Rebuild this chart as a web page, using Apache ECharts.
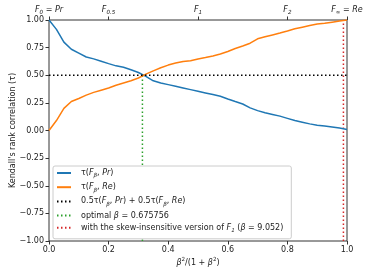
<!DOCTYPE html>
<html><head><meta charset="utf-8">
<script src="https://cdn.jsdelivr.net/npm/echarts@6/dist/echarts.min.js"></script>
<style>html,body{margin:0;padding:0;background:#fff}#c{width:369px;height:276px}</style>
</head><body><div id="c"></div>
<script>
const xValues = [0,0.025,0.05,0.075,0.1,0.125,0.15,0.175,0.2,0.225,0.25,0.275,0.3,0.325,0.35,0.375,0.4,0.425,0.45,0.475,0.5,0.525,0.55,0.575,0.6,0.625,0.65,0.675,0.7,0.725,0.75,0.775,0.8,0.825,0.85,0.875,0.9,0.925,0.95,0.975,1.0];
const tauPr = [1.0,0.915,0.80,0.735,0.70,0.665,0.648,0.627,0.605,0.585,0.572,0.55,0.525,0.49,0.45,0.43,0.415,0.40,0.385,0.37,0.355,0.34,0.325,0.31,0.285,0.262,0.24,0.205,0.18,0.16,0.145,0.13,0.11,0.09,0.075,0.06,0.048,0.04,0.032,0.022,0.01];
const tauRe = [0.0,0.09,0.20,0.262,0.29,0.32,0.345,0.365,0.385,0.41,0.43,0.45,0.475,0.51,0.54,0.568,0.592,0.61,0.625,0.632,0.648,0.66,0.675,0.692,0.715,0.742,0.765,0.79,0.83,0.848,0.865,0.882,0.9,0.92,0.935,0.95,0.963,0.97,0.98,0.99,1.0];
const avgX = [0, 1], avgY = [0.5, 0.5];
const optX = [0.3135, 0.3135], optY = [-1, 0.5];
const skewX = [0.988, 0.988], skewY = [-1, 1];
const topTicks = [0, 0.2, 0.5, 0.8, 1.0];
const topLabels = ['{i|F}{s|0}{t| = }{i|Pr}', '{i|F}{s|0.5}', '{i|F}{s|1}', '{i|F}{s|2}', '{i|F}{s|∞}{t| = }{i|Re}'];
const seriesNames = ['pr', 're', 'avg', 'opt', 'skew'];
const legendLabels = {
  pr: '{t|τ(}{i|F}{s|β}{t|, }{i|Pr}{t|)}',
  re: '{t|τ(}{i|F}{s|β}{t|, }{i|Re}{t|)}',
  avg: '{t|0.5τ(}{i|F}{s|β}{t|, }{i|Pr}{t|) + 0.5τ(}{i|F}{s|β}{t|, }{i|Re}{t|)}',
  opt: '{t|optimal }{i|β}{t| = 0.675756}',
  skew: '{t|with the skew-insensitive version of }{i|F}{s|1}{t| (}{i|β}{t| = 9.052)}'
};
const F = 'DejaVu Sans';
const rich = {
  t: {fontFamily: F, fontSize: 8, color: '#222', lineHeight: 12},
  i: {fontFamily: F, fontSize: 8, fontStyle: 'italic', color: '#222', lineHeight: 12},
  s: {fontFamily: F, fontSize: 5.6, fontStyle: 'italic', color: '#222', verticalAlign: 'bottom', lineHeight: 10},
  p: {fontFamily: F, fontSize: 5.6, color: '#222', verticalAlign: 'top', lineHeight: 10}
};
const zip = (a, b) => a.map((v, i) => [v, b[i]]);
const chart = echarts.init(document.getElementById('c'), null, {renderer: 'canvas'});
chart.setOption({
  animation: false,
  backgroundColor: '#fff',
  grid: {left: 49, right: 22, top: 20, bottom: 35, show: true, borderColor: '#333', borderWidth: 1, backgroundColor: 'transparent', containLabel: false, outerBoundsMode: 'none'},
  xAxis: [{
    type: 'value', min: 0, max: 1, interval: 0.2, position: 'bottom',
    axisLine: {show: false, onZero: false}, splitLine: {show: false},
    axisTick: {show: true, length: 3.5, lineStyle: {color: '#333'}},
    axisLabel: {fontFamily: F, fontSize: 8, color: '#222', margin: 5, formatter: v => v.toFixed(1)},
    name: '{i|β}{p|2}{t|/(1 + }{i|β}{p|2}{t|)}', nameLocation: 'middle', nameGap: 16, nameMoveOverlap: false,
    nameTextStyle: {rich: rich}
  }, {
    type: 'value', min: 0, max: 1, position: 'top',
    axisLine: {show: false, onZero: false}, splitLine: {show: false},
    axisTick: {show: true, length: 3.5, customValues: topTicks, lineStyle: {color: '#333'}},
    axisLabel: {show: true, margin: 4, customValues: topTicks,
      formatter: v => topLabels[topTicks.indexOf(v)] || '', rich: rich}
  }],
  yAxis: {
    type: 'value', min: -1, max: 1, interval: 0.25,
    axisLine: {show: false, onZero: false}, splitLine: {show: false},
    axisTick: {show: true, length: 3.5, lineStyle: {color: '#333'}},
    axisLabel: {fontFamily: F, fontSize: 8, color: '#222', margin: 5, formatter: v => (v < 0 ? '−' + (-v).toFixed(2) : v.toFixed(2))},
    name: "Kendall's rank correlation (τ)", nameLocation: 'middle', nameGap: 32, nameMoveOverlap: false,
    nameTextStyle: {fontFamily: F, fontSize: 8, color: '#222'}
  },
  legend: {
    data: seriesNames, orient: 'vertical', left: 53, top: 166,
    itemWidth: 14, itemHeight: 10, itemGap: 4.2,
    padding: [3, 8, 5, 3],
    backgroundColor: '#fff', borderColor: '#ccc', borderWidth: 1, borderRadius: 2,
    itemStyle: {opacity: 0},
    formatter: n => legendLabels[n],
    textStyle: {rich: rich, padding: [0, 0, 0, 5]}
  },
  series: [
    {name: 'pr', type: 'line', data: zip(xValues, tauPr), showSymbol: false, symbol: 'none', lineStyle: {color: '#1f77b4', width: 1.5}, itemStyle: {color: '#1f77b4'}, z: 3},
    {name: 're', type: 'line', data: zip(xValues, tauRe), showSymbol: false, symbol: 'none', lineStyle: {color: '#ff7f0e', width: 1.5}, itemStyle: {color: '#ff7f0e'}, z: 3},
    {name: 'avg', type: 'line', data: zip(avgX, avgY), symbol: 'none', lineStyle: {color: '#000', width: 1.5, type: [1.5, 2.5]}, itemStyle: {color: '#000'}, z: 4},
    {name: 'opt', type: 'line', data: zip(optX, optY), symbol: 'none', lineStyle: {color: '#2ca02c', width: 1.5, type: [1.5, 2.5]}, itemStyle: {color: '#2ca02c'}, z: 2},
    {name: 'skew', type: 'line', data: zip(skewX, skewY), symbol: 'none', lineStyle: {color: '#d62728', width: 1.5, type: [1.5, 2.5]}, itemStyle: {color: '#d62728'}, z: 2}
  ]
});
</script></body></html>
